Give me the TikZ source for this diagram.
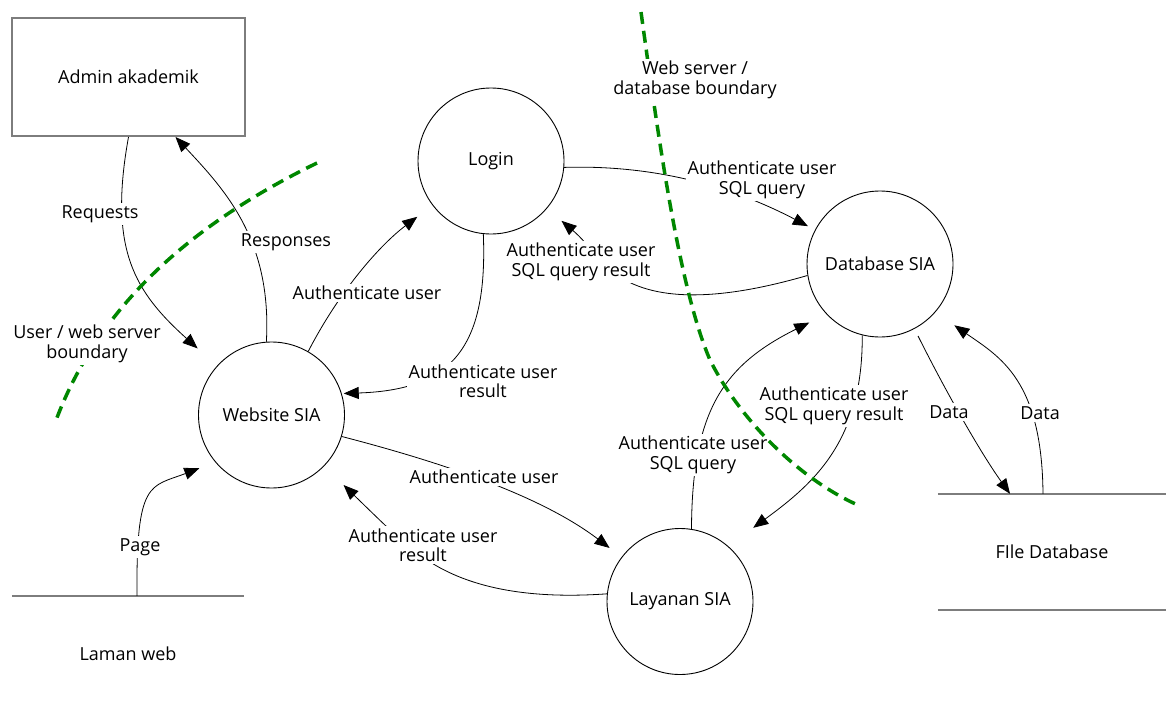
\documentclass[tikz,border=0pt]{standalone}
\usepackage{fontspec}
\setmainfont{Open Sans}
\usetikzlibrary{arrows.meta}
\definecolor{bndgreen}{RGB}{0,135,0}
\definecolor{boxgray}{RGB}{125,125,125}

\begin{document}
\begin{tikzpicture}[x=1pt,y=-1pt,>={Triangle[length=15pt,width=12pt]},
  font=\fontsize{18}{19.5}\selectfont,
  proc/.style={circle,draw,line width=0.9pt,minimum size=146pt,inner sep=0pt},
  lbl/.style={fill=white,inner sep=2pt,align=center},
  flow/.style={->,line width=0.8pt},
  bnd/.style={draw=bndgreen,line width=3.5pt,dash pattern=on 12pt off 7pt}]
\useasboundingbox (0,0) rectangle (1166,709);
% entities, processes, stores
\node[draw=boxgray,line width=2pt,minimum width=233pt,minimum height=118pt] (admin) at (128.5,77) {Admin akademik};
\node[proc] (login) at (491,161) {Login};
\node[proc] (db) at (880,264) {Database SIA};
\node[proc] (web) at (271.5,415) {Website SIA};
\node[proc] (layanan) at (680,601.5) {Layanan SIA};
\node[minimum width=232pt,minimum height=116pt] (laman) at (128,654) {Laman web};
\node[minimum width=228pt,minimum height=116pt] (filedb) at (1052,552) {FIle Database};
\draw[boxgray,line width=2pt] (laman.north west) -- (laman.north east);
\draw[boxgray,line width=2pt] (filedb.north west) -- (filedb.north east) (filedb.south west) -- (filedb.south east);
% flows
\draw[flow,shorten >=26pt] (admin.south) .. controls (108,250) and (135,292) .. (web);
\draw[flow] (web.94) .. controls (272,240) and (225,190) .. ([xshift=47pt]admin.south);
\draw[flow,shorten >=19pt] (web.60) .. controls (340,290) and (380,245) .. (login);
\draw[flow,shorten >=2pt] (login.264) .. controls (488,350) and (450,390) .. (web.17);
\draw[flow,shorten >=8pt] (login.-5) .. controls (640,165) and (720,180) .. (db);
\draw[flow,shorten >=19pt] (db.189) .. controls (740,295) and (670,305) .. (625,280) .. controls (600,265) and (590,245) .. (login);
\draw[flow,shorten >=15pt] (web.-17) .. controls (440,462) and (540,495) .. (layanan);
\draw[flow,shorten >=27pt] (layanan.174) .. controls (520,600) and (460,585) .. (420,555) .. controls (395,535) .. (web);
\draw[flow,shorten >=19pt] (layanan.81) .. controls (692,410) and (724,365) .. (db.223);
\draw[flow,shorten >=31pt] (db.256) .. controls (863,440) and (815,482.6) .. (layanan.49);
\draw[flow,shorten <=8pt] (db.-62) .. controls (945,390) and (980,452) .. ([xshift=-42pt]filedb.north);
\draw[flow,shorten >=23pt] ([xshift=-9pt]filedb.north) .. controls (1042,380) and (1000,357) .. (db.-41);
\draw[flow,shorten >=17pt] ([xshift=9pt]laman.north) .. controls (136,480) and (150,487) .. (web.220);
% flow labels
\node[lbl] (lReq) at (100,214) {Requests};
\node[lbl] (lResp) at (286,242) {Responses};
\node[lbl] (lAuthA) at (367,293) {Authenticate user};
\node[lbl] (lResA) at (483,381) {Authenticate user\\result};
\node[lbl] (lSqlA) at (762,180) {Authenticate user\\SQL query};
\node[lbl] (lSqlResA) at (581,262) {Authenticate user\\SQL query result};
\node[lbl] (lAuthB) at (484,477) {Authenticate user};
\node[lbl] (lResB) at (423,545) {Authenticate user\\result};
\node[lbl] (lSqlB) at (693,455) {Authenticate user\\SQL query};
\node[lbl] (lSqlResB) at (834,406) {Authenticate user\\SQL query result};
\node[lbl] (lDataA) at (949,412) {Data};
\node[lbl] (lDataB) at (1040,413) {Data};
\node[lbl] (lPage) at (140,547) {Page};
% boundaries
\draw[bnd] (317,163) .. controls (200,220) and (100,300) .. (55,423);
\draw[bnd] (641,12) .. controls (660,150) and (680,290) .. (710,360) .. controls (740,420) and (800,480) .. (860,506);
\node[lbl] (bndA) at (87,344) {User / web server\\boundary};
\node[lbl] (bndB) at (695,80) {Web server /\\database boundary};
\end{tikzpicture}
\end{document}
